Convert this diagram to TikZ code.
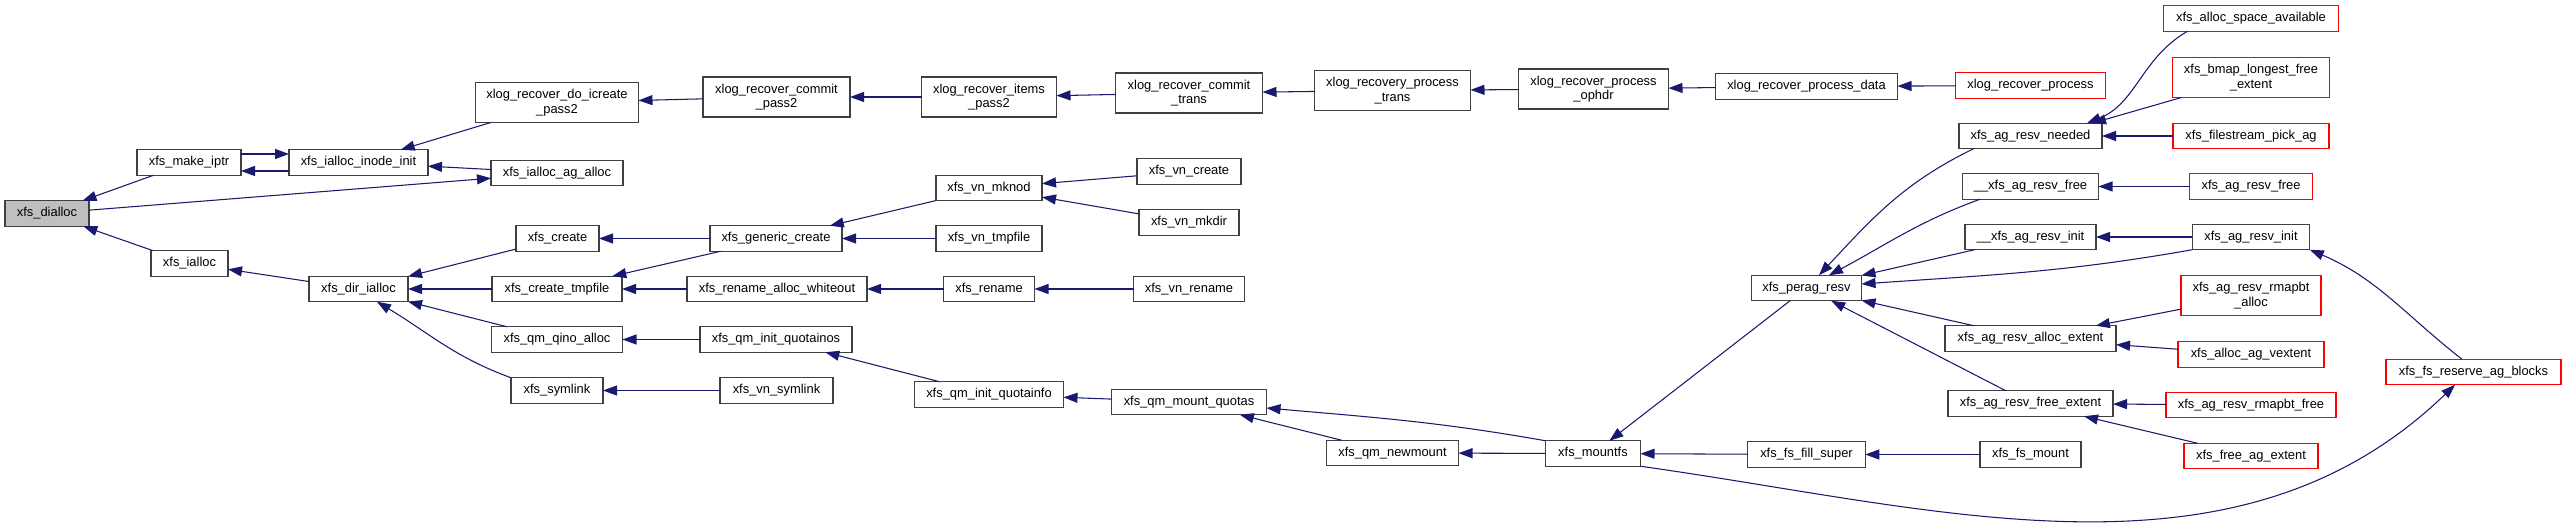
\documentclass[tikz,border=0pt]{standalone}
\usepackage{fontspec}
\setmainfont{Liberation Sans}
\usetikzlibrary{arrows.meta}
\definecolor{edgeblue}{RGB}{25,25,112}
\definecolor{curgray}{RGB}{191,191,191}

\begin{document}
\begin{tikzpicture}[
  fn/.style={draw=black!75,line width=0.6pt,fill=white,inner sep=0pt,outer sep=0pt,minimum height=0.51cm,font=\fontsize{7.34}{8.2}\selectfont,align=center},
  fnred/.style={fn,draw=red},
  fntwo/.style={minimum height=0.80cm},
  call/.style={draw=edgeblue,line width=0.6pt,-{Triangle[length=0.28cm,width=0.20cm]}}
]
\path[use as bounding box,fill=white] (0,0) rectangle (51.340,-10.600);
\node[fn,fill=curgray,minimum width=1.68cm] (dialloc) at (0.940,-4.270) {xfs\_dialloc};
\node[fn,minimum width=2.08cm] (makeiptr) at (3.780,-3.250) {xfs\_make\_iptr};
\node[fn,minimum width=1.54cm] (ialloc) at (3.790,-5.270) {xfs\_ialloc};
\node[fn,minimum width=2.78cm] (inodeinit) at (7.170,-3.250) {xfs\_ialloc\_inode\_init};
\node[fn,minimum width=1.98cm] (dirialloc) at (7.170,-5.780) {xfs\_dir\_ialloc};
\node[fn,fntwo,minimum width=3.26cm] (icreate) at (11.140,-2.050) {xlog\_recover\_do\_icreate\\\_pass2};
\node[fn,minimum width=2.64cm] (agalloc) at (11.140,-3.460) {xfs\_ialloc\_ag\_alloc};
\node[fn,minimum width=1.66cm] (create) at (11.150,-4.770) {xfs\_create};
\node[fn,minimum width=2.60cm] (createtmp) at (11.140,-5.780) {xfs\_create\_tmpfile};
\node[fn,minimum width=2.62cm] (qinoalloc) at (11.140,-6.790) {xfs\_qm\_qino\_alloc};
\node[fn,minimum width=1.84cm] (symlink) at (11.140,-7.810) {xfs\_symlink};
\node[fn,fntwo,minimum width=2.94cm] (commitpass) at (15.530,-1.940) {xlog\_recover\_commit\\\_pass2};
\node[fn,minimum width=2.64cm] (gencreate) at (15.520,-4.770) {xfs\_generic\_create};
\node[fn,minimum width=3.60cm] (whiteout) at (15.540,-5.780) {xfs\_rename\_alloc\_whiteout};
\node[fn,minimum width=3.04cm] (quotainos) at (15.520,-6.790) {xfs\_qm\_init\_quotainos};
\node[fn,minimum width=2.26cm] (vnsymlink) at (15.530,-7.810) {xfs\_vn\_symlink};
\node[fn,fntwo,minimum width=2.70cm] (itemspass) at (19.780,-1.940) {xlog\_recover\_items\\\_pass2};
\node[fn,minimum width=2.12cm] (vnmknod) at (19.780,-3.760) {xfs\_vn\_mknod};
\node[fn,minimum width=2.12cm] (vntmpfile) at (19.780,-4.770) {xfs\_vn\_tmpfile};
\node[fn,minimum width=1.82cm] (rename) at (19.780,-5.780) {xfs\_rename};
\node[fn,minimum width=2.98cm] (quotainfo) at (19.780,-7.890) {xfs\_qm\_init\_quotainfo};
\node[fn,fntwo,minimum width=2.94cm] (committrans) at (23.780,-1.860) {xlog\_recover\_commit\\\_trans};
\node[fn,minimum width=2.08cm] (vncreate) at (23.780,-3.430) {xfs\_vn\_create};
\node[fn,minimum width=2.00cm] (vnmkdir) at (23.780,-4.450) {xfs\_vn\_mkdir};
\node[fn,minimum width=2.22cm] (vnrename) at (23.780,-5.780) {xfs\_vn\_rename};
\node[fn,minimum width=3.10cm] (mountquotas) at (23.780,-8.040) {xfs\_qm\_mount\_quotas};
\node[fn,fntwo,minimum width=3.12cm] (processtrans) at (27.850,-1.810) {xlog\_recovery\_process\\\_trans};
\node[fn,minimum width=2.64cm] (newmount) at (27.850,-9.060) {xfs\_qm\_newmount};
\node[fn,fntwo,minimum width=3.00cm] (ophdr) at (31.870,-1.780) {xlog\_recover\_process\\\_ophdr};
\node[fn,minimum width=1.90cm] (mountfs) at (31.860,-9.070) {xfs\_mountfs};
\node[fn,minimum width=3.64cm] (processdata) at (36.130,-1.730) {xlog\_recover\_process\_data};
\node[fn,minimum width=2.20cm] (peragresv) at (36.130,-5.760) {xfs\_perag\_resv};
\node[fn,minimum width=2.35cm] (fillsuper) at (36.130,-9.090) {xfs\_fs\_fill\_super};
\node[fnred,minimum width=3.00cm] (recprocess) at (40.610,-1.710) {xlog\_recover\_process};
\node[fn,minimum width=2.86cm] (resvneeded) at (40.610,-2.720) {xfs\_ag\_resv\_needed};
\node[fn,minimum width=2.72cm] (uuresvfree) at (40.610,-3.730) {\_\_xfs\_ag\_resv\_free};
\node[fn,minimum width=2.62cm] (uuresvinit) at (40.610,-4.740) {\_\_xfs\_ag\_resv\_init};
\node[fn,minimum width=3.42cm] (allocextent) at (40.610,-6.770) {xfs\_ag\_resv\_alloc\_extent};
\node[fn,minimum width=3.30cm] (freeextent) at (40.610,-8.070) {xfs\_ag\_resv\_free\_extent};
\node[fn,minimum width=2.02cm] (fsmount) at (40.610,-9.090) {xfs\_fs\_mount};
\node[fnred,minimum width=3.50cm] (spaceavail) at (45.020,-0.370) {xfs\_alloc\_space\_available};
\node[fnred,fntwo,minimum width=3.14cm] (longestfree) at (45.020,-1.550) {xfs\_bmap\_longest\_free\\\_extent};
\node[fnred,minimum width=3.12cm] (pickag) at (45.020,-2.720) {xfs\_filestream\_pick\_ag};
\node[fnred,minimum width=2.46cm] (resvfree) at (45.020,-3.730) {xfs\_ag\_resv\_free};
\node[fn,minimum width=2.35cm] (resvinit) at (45.020,-4.740) {xfs\_ag\_resv\_init};
\node[fnred,fntwo,minimum width=2.80cm] (rmapalloc) at (45.020,-5.910) {xfs\_ag\_resv\_rmapbt\\\_alloc};
\node[fnred,minimum width=2.92cm] (agvextent) at (45.020,-7.090) {xfs\_alloc\_ag\_vextent};
\node[fnred,minimum width=3.40cm] (rmapfree) at (45.020,-8.100) {xfs\_ag\_resv\_rmapbt\_free};
\node[fnred,minimum width=2.68cm] (freeagext) at (45.020,-9.120) {xfs\_free\_ag\_extent};
\node[fnred,minimum width=3.50cm] (reserveag) at (49.470,-7.440) {xfs\_fs\_reserve\_ag\_blocks};
\draw[call] (makeiptr) -- (dialloc);
\draw[call] (ialloc) -- (dialloc);
\draw[call] (dialloc) -- (agalloc);
\draw[call] ([yshift=0.17cm]makeiptr.east) -- ([yshift=0.17cm]inodeinit.west);
\draw[call] ([yshift=-0.17cm]inodeinit.west) -- ([yshift=-0.17cm]makeiptr.east);
\draw[call] (icreate) -- (inodeinit);
\draw[call] (agalloc) -- (inodeinit);
\draw[call] (commitpass) -- (icreate);
\draw[call] (itemspass) -- (commitpass);
\draw[call] (committrans) -- (itemspass);
\draw[call] (processtrans) -- (committrans);
\draw[call] (ophdr) -- (processtrans);
\draw[call] (processdata) -- (ophdr);
\draw[call] (recprocess) -- (processdata);
\draw[call] (dirialloc) -- (ialloc);
\draw[call] (create) -- (dirialloc);
\draw[call] (createtmp) -- (dirialloc);
\draw[call] (qinoalloc) -- (dirialloc);
\draw[call] (symlink.north west) to[out=160,in=-31] ([xshift=0.37cm]dirialloc.south);
\draw[call] (gencreate) -- (create);
\draw[call] (gencreate) -- (createtmp);
\draw[call] (whiteout) -- (createtmp);
\draw[call] (vnmknod) -- (gencreate);
\draw[call] (vntmpfile) -- (gencreate);
\draw[call] (vncreate) -- (vnmknod);
\draw[call] (vnmkdir) -- (vnmknod);
\draw[call] (rename) -- (whiteout);
\draw[call] (vnrename) -- (rename);
\draw[call] (quotainos) -- (qinoalloc);
\draw[call] (quotainfo) -- (quotainos);
\draw[call] (vnsymlink) -- (symlink);
\draw[call] (mountquotas) -- (quotainfo);
\draw[call] (mountfs.north west) to[out=170,in=-5] ([yshift=-0.12cm]mountquotas.east);
\draw[call] (newmount) -- (mountquotas);
\draw[call] (mountfs) -- (newmount);
\draw[call] (peragresv) -- (mountfs);
\draw[call] (fillsuper) -- (mountfs);
\draw[call] (fsmount) -- (fillsuper);
\draw[call] (mountfs.south east) to[out=-8,in=224,looseness=0.95] ([xshift=-0.37cm]reserveag.south);
\draw[call] ([xshift=0.29cm]resvneeded.south west) to[out=206,in=47] ([xshift=0.25cm]peragresv.north);
\draw[call] ([xshift=0.35cm]uuresvfree.south west) to[out=200,in=28] ([xshift=0.45cm]peragresv.north);
\draw[call] (uuresvinit) -- (peragresv);
\draw[call] (resvinit.south west) to[out=190,in=4] ([yshift=0.08cm]peragresv.east);
\draw[call] (allocextent) -- (peragresv);
\draw[call] (freeextent) -- (peragresv);
\draw[call] ([xshift=0.48cm]spaceavail.south west) to[out=210,in=22] ([xshift=-0.30cm]resvneeded.north east);
\draw[call] (longestfree) -- ([xshift=-0.20cm]resvneeded.north east);
\draw[call] (pickag) -- (resvneeded);
\draw[call] (resvfree) -- (uuresvfree);
\draw[call] (resvinit) -- (uuresvinit);
\draw[call] ([xshift=-0.23cm]reserveag.north) to[out=142,in=-23] (resvinit.south east);
\draw[call] (rmapalloc) -- (allocextent);
\draw[call] (agvextent) -- (allocextent);
\draw[call] (rmapfree) -- (freeextent);
\draw[call] (freeagext) -- (freeextent);
\end{tikzpicture}
\end{document}
